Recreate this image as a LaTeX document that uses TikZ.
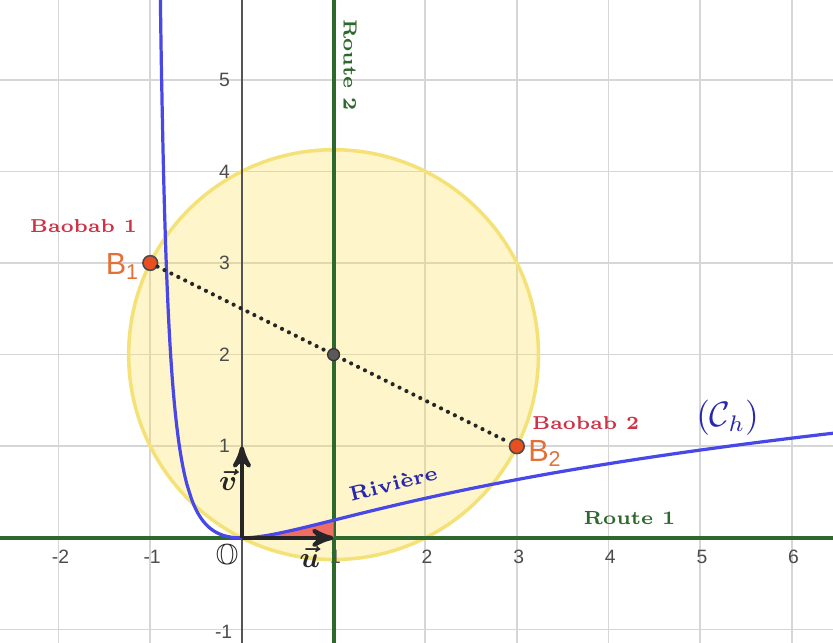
\documentclass[tikz,border=0pt]{standalone}
\usepackage{amsmath}
\usepackage{amssymb}
\usepackage{fontspec}
\newfontfamily\ticksans{Liberation Sans}
\usepackage{tikz}
\usetikzlibrary{arrows}

\definecolor{gridgray}{RGB}{214,214,214}
\definecolor{axisgray}{RGB}{85,85,85}
\definecolor{routegreen}{RGB}{45,105,45}
\definecolor{riverblue}{RGB}{72,72,232}
\definecolor{labelblue}{RGB}{40,40,175}
\definecolor{baobabred}{RGB}{205,50,70}
\definecolor{pointorange}{RGB}{232,78,30}
\definecolor{labelorange}{RGB}{228,112,55}
\definecolor{circleyellow}{RGB}{255,222,80}
\definecolor{circleedge}{RGB}{244,226,120}
\definecolor{areared}{RGB}{238,110,100}

\begin{document}
\begin{tikzpicture}[>=stealth', semithick, x=1cm, y=1cm]
        \tikzset{
           gridline/.style={draw=gridgray, line width=0.5pt},
           yaxis/.style={draw=axisgray, line width=0.7pt},
           route/.style={draw=routegreen, line width=1.2pt},
           riviere/.style={draw=riverblue, line width=1pt},
           vector/.style={->, draw=black!85, line width=1.3pt},
           ticklabel/.style={font=\ticksans\fontsize{6}{7}\selectfont, text=black!70, inner sep=0pt},
           roadname/.style={font=\fontsize{5.9}{7}\selectfont\bfseries, text=routegreen, inner sep=0pt},
           baobabname/.style={font=\fontsize{5.8}{7}\selectfont\bfseries, text=baobabred, inner sep=0pt},
           pointname/.style={font=\ticksans\fontsize{9.5}{10}\selectfont, text=labelorange, inner sep=0pt},
           vecname/.style={font=\boldmath\fontsize{9}{10}\selectfont, text=black!85, inner sep=0pt},
           baobabpt/.style={circle, fill=pointorange, draw=black!70, line width=0.5pt, inner sep=0pt, minimum size=0.16cm},
           centrept/.style={circle, fill=black!65, draw=black!80, line width=0.4pt, inner sep=0pt, minimum size=0.13cm},
                 };
        %----------------
        \useasboundingbox (-2.64,-1.145) rectangle (6.45,5.87);
        \clip (-2.64,-1.145) rectangle (6.45,5.87);
        \draw[gridline] (-2.64,-1.145) grid (6.45,5.87);
        \fill[circleyellow, fill opacity=0.3] (1,2) circle ({sqrt(5)});
        \draw[circleedge, line width=1.1pt] (1,2) circle ({sqrt(5)});
        %----------------
        \foreach \x in {-2,-1,1,2,3,4,5,6}
           \node[ticklabel] (tx\x) at (\x+0.02,-0.21) {\x};
        \foreach \y in {1,...,5}
           \node[ticklabel] (ty\y) at (-0.19,\y) {\y};
        \node[ticklabel] (tym) at (-0.2,-1.03) {-1};
        %----------------
        \draw[yaxis] (0,-1.145) -- (0,5.87);
        \draw[route] (1,-1.145) -- (1,5.87);
        \draw[route] (-2.64,0) -- (6.45,0);
        \fill[areared] plot[domain=0:1, samples=30] (\x,{ln(1+\x)-\x/(1+\x)}) -- (1,0) -- cycle;
        \draw[riviere] plot[domain=-0.8925:-0.6, samples=150, smooth] (\x,{ln(1+\x)-\x/(1+\x)})
              -- plot[domain=-0.6:6.45, samples=120, smooth] (\x,{ln(1+\x)-\x/(1+\x)});
        %----------------
        \coordinate (O) at (0,0);
        \coordinate (I) at (1,0);
        \coordinate (J) at (0,1);
        \draw[vector] (O) -- (I);
        \draw[vector] (O) -- (J);
        %----------------
        \node[baobabpt] (B1) at (-1,3) {};
        \node[baobabpt] (B2) at (3,1) {};
        \draw[black!85, line width=1.3pt, dash pattern=on 0pt off 2.4pt, line cap=round] (B1) -- (B2);
        \node[centrept] (M) at (1,2) {};
        %----------------
        \node[baobabname] (name1) at (-1.73,3.4) {Baobab 1};
        \node[baobabname] (name2) at (3.75,1.25) {Baobab 2};
        \node[pointname] (lab1) at (-1.3,2.96) {B\textsubscript{1}};
        \node[pointname] (lab2) at (3.31,0.92) {B\textsubscript{2}};
        \node[roadname, rotate=-90] (road2) at (1.18,5.16) {Route 2};
        \node[roadname] (road1) at (4.23,0.22) {Route 1};
        \node[font=\fontsize{6.4}{8}\selectfont\bfseries, text=labelblue, rotate=14] (riv) at (1.65,0.59) {Rivière};
        \node[font=\fontsize{10.5}{12}\selectfont, text=labelblue] (ch) at (5.3,1.31) {$(\mathcal{C}_h)$};
        \node[vecname] (lu) at (0.74,-0.21) {$\vec{u}$};
        \node[vecname] (lv) at (-0.15,0.63) {$\vec{v}$};
        \node[vecname] (lo) at (-0.16,-0.21) {$\mathbb{O}$};
    \end{tikzpicture}
\end{document}
